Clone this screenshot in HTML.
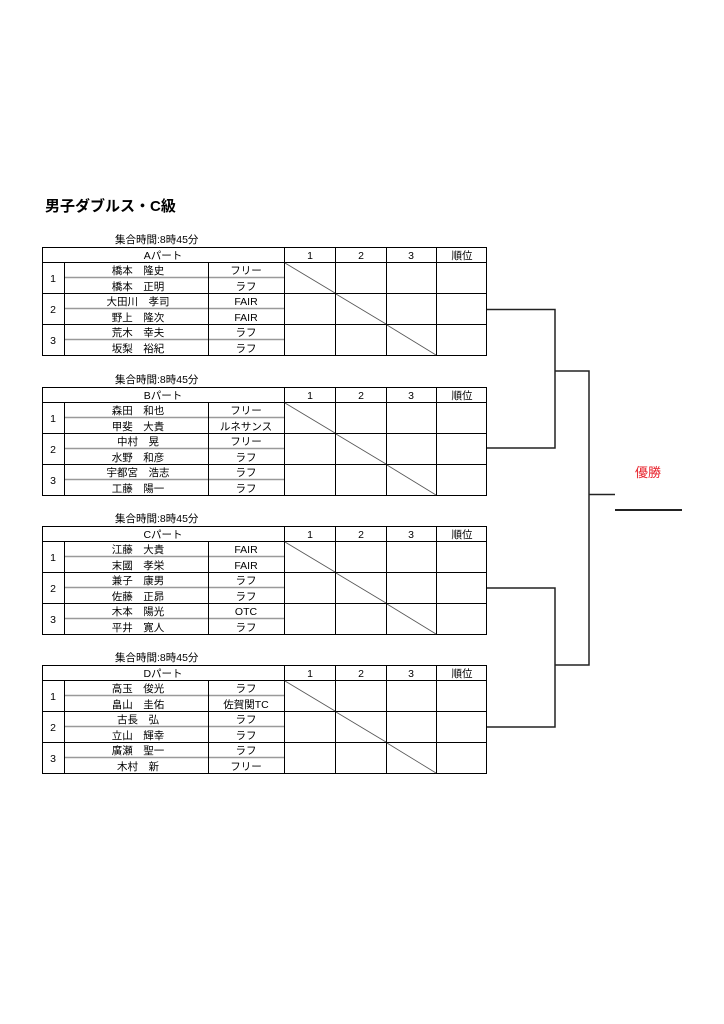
<!DOCTYPE html>
<html><head><meta charset="utf-8"><style>
html,body{margin:0;padding:0;background:#fff}
svg{display:block}
text{font-family:"Liberation Sans","Noto Sans CJK JP",sans-serif;font-size:10.5px;fill:#000}
.c{text-anchor:middle}
.g{stroke:#999;stroke-width:1.5}
.b{stroke:#000;stroke-width:1;fill:none}
.d{stroke:#555;stroke-width:0.8}
</style></head><body>
<svg width="724" height="1024" viewBox="0 0 724 1024">
<defs>
<g id="grid">
<rect class="b" x="42.5" y="0.5" width="444" height="108" stroke-width="1.5"/>
<line class="g" x1="64" y1="30.5" x2="284" y2="30.5"/>
<line class="g" x1="64" y1="61.5" x2="284" y2="61.5"/>
<line class="g" x1="64" y1="92.5" x2="284" y2="92.5"/>
<line class="b" x1="42" y1="15.5" x2="487" y2="15.5"/>
<line class="b" x1="42" y1="46.5" x2="487" y2="46.5" stroke-width="1.5"/>
<line class="b" x1="42" y1="77.5" x2="487" y2="77.5" stroke-width="1.5"/>
<line class="b" x1="64.5" y1="15" x2="64.5" y2="108"/>
<line class="b" x1="208.5" y1="15" x2="208.5" y2="108"/>
<line class="b" x1="284.5" y1="0" x2="284.5" y2="108" stroke-width="1.5"/>
<line class="b" x1="335.5" y1="0" x2="335.5" y2="108"/>
<line class="b" x1="386.5" y1="0" x2="386.5" y2="108"/>
<line class="b" x1="436.5" y1="0" x2="436.5" y2="108"/>
<line class="d" x1="285" y1="16" x2="335" y2="46"/>
<line class="d" x1="336" y1="47" x2="386" y2="77"/>
<line class="d" x1="387" y1="78" x2="436" y2="108"/>
<text class="c" x="310" y="12">1</text>
<text class="c" x="361" y="12">2</text>
<text class="c" x="411" y="12">3</text>
<text class="c" x="462" y="12">順位</text>
<text class="c" x="53" y="35">1</text>
<text class="c" x="53" y="66">2</text>
<text class="c" x="53" y="97">3</text>
<text x="115" y="-4">集合時間:8時45分</text>
</g>
</defs>
<text x="45" y="211" style="font-size:15px;font-weight:bold">男子ダブルス・C級</text>

<g transform="translate(0,247)">
<use href="#grid"/>
<text class="c" x="163" y="12">Aパート</text>
<text class="c" x="138" y="27">橋本　隆史</text><text class="c" x="246" y="27">フリー</text>
<text class="c" x="138" y="43">橋本　正明</text><text class="c" x="246" y="43">ラフ</text>
<text class="c" x="138" y="58">大田川　孝司</text><text class="c" x="246" y="58">FAIR</text>
<text class="c" x="138" y="74">野上　隆次</text><text class="c" x="246" y="74">FAIR</text>
<text class="c" x="138" y="89">荒木　幸夫</text><text class="c" x="246" y="89">ラフ</text>
<text class="c" x="138" y="105">坂梨　裕紀</text><text class="c" x="246" y="105">ラフ</text>
</g>
<g transform="translate(0,387)">
<use href="#grid"/>
<text class="c" x="163" y="12">Bパート</text>
<text class="c" x="138" y="27">森田　和也</text><text class="c" x="246" y="27">フリー</text>
<text class="c" x="138" y="43">甲斐　大貴</text><text class="c" x="246" y="43">ルネサンス</text>
<text class="c" x="138" y="58">中村　晃</text><text class="c" x="246" y="58">フリー</text>
<text class="c" x="138" y="74">水野　和彦</text><text class="c" x="246" y="74">ラフ</text>
<text class="c" x="138" y="89">宇都宮　浩志</text><text class="c" x="246" y="89">ラフ</text>
<text class="c" x="138" y="105">工藤　陽一</text><text class="c" x="246" y="105">ラフ</text>
</g>
<g transform="translate(0,526)">
<use href="#grid"/>
<text class="c" x="163" y="12">Cパート</text>
<text class="c" x="138" y="27">江藤　大貴</text><text class="c" x="246" y="27">FAIR</text>
<text class="c" x="138" y="43">末國　孝栄</text><text class="c" x="246" y="43">FAIR</text>
<text class="c" x="138" y="58">兼子　康男</text><text class="c" x="246" y="58">ラフ</text>
<text class="c" x="138" y="74">佐藤　正昴</text><text class="c" x="246" y="74">ラフ</text>
<text class="c" x="138" y="89">木本　陽光</text><text class="c" x="246" y="89">OTC</text>
<text class="c" x="138" y="105">平井　寛人</text><text class="c" x="246" y="105">ラフ</text>
</g>
<g transform="translate(0,665)">
<use href="#grid"/>
<text class="c" x="163" y="12">Dパート</text>
<text class="c" x="138" y="27">高玉　俊光</text><text class="c" x="246" y="27">ラフ</text>
<text class="c" x="138" y="43">畠山　圭佑</text><text class="c" x="246" y="43">佐賀関TC</text>
<text class="c" x="138" y="58">古長　弘</text><text class="c" x="246" y="58">ラフ</text>
<text class="c" x="138" y="74">立山　輝幸</text><text class="c" x="246" y="74">ラフ</text>
<text class="c" x="138" y="89">廣瀬　聖一</text><text class="c" x="246" y="89">ラフ</text>
<text class="c" x="138" y="105">木村　新</text><text class="c" x="246" y="105">フリー</text>
</g>

<g stroke="#222" stroke-width="1.5" fill="none">
<polyline points="487,309.5 555,309.5 555,448 487,448"/>
<polyline points="487,588 555,588 555,727 487,727"/>
<polyline points="555,371 589,371 589,665 555,665"/>
<line x1="589" y1="494.5" x2="615" y2="494.5"/>
<line x1="615" y1="510" x2="682" y2="510" stroke-width="2"/>
</g>
<text x="635" y="477" style="fill:#e8202a;font-size:13px">優勝</text>
</svg>
</body></html>
